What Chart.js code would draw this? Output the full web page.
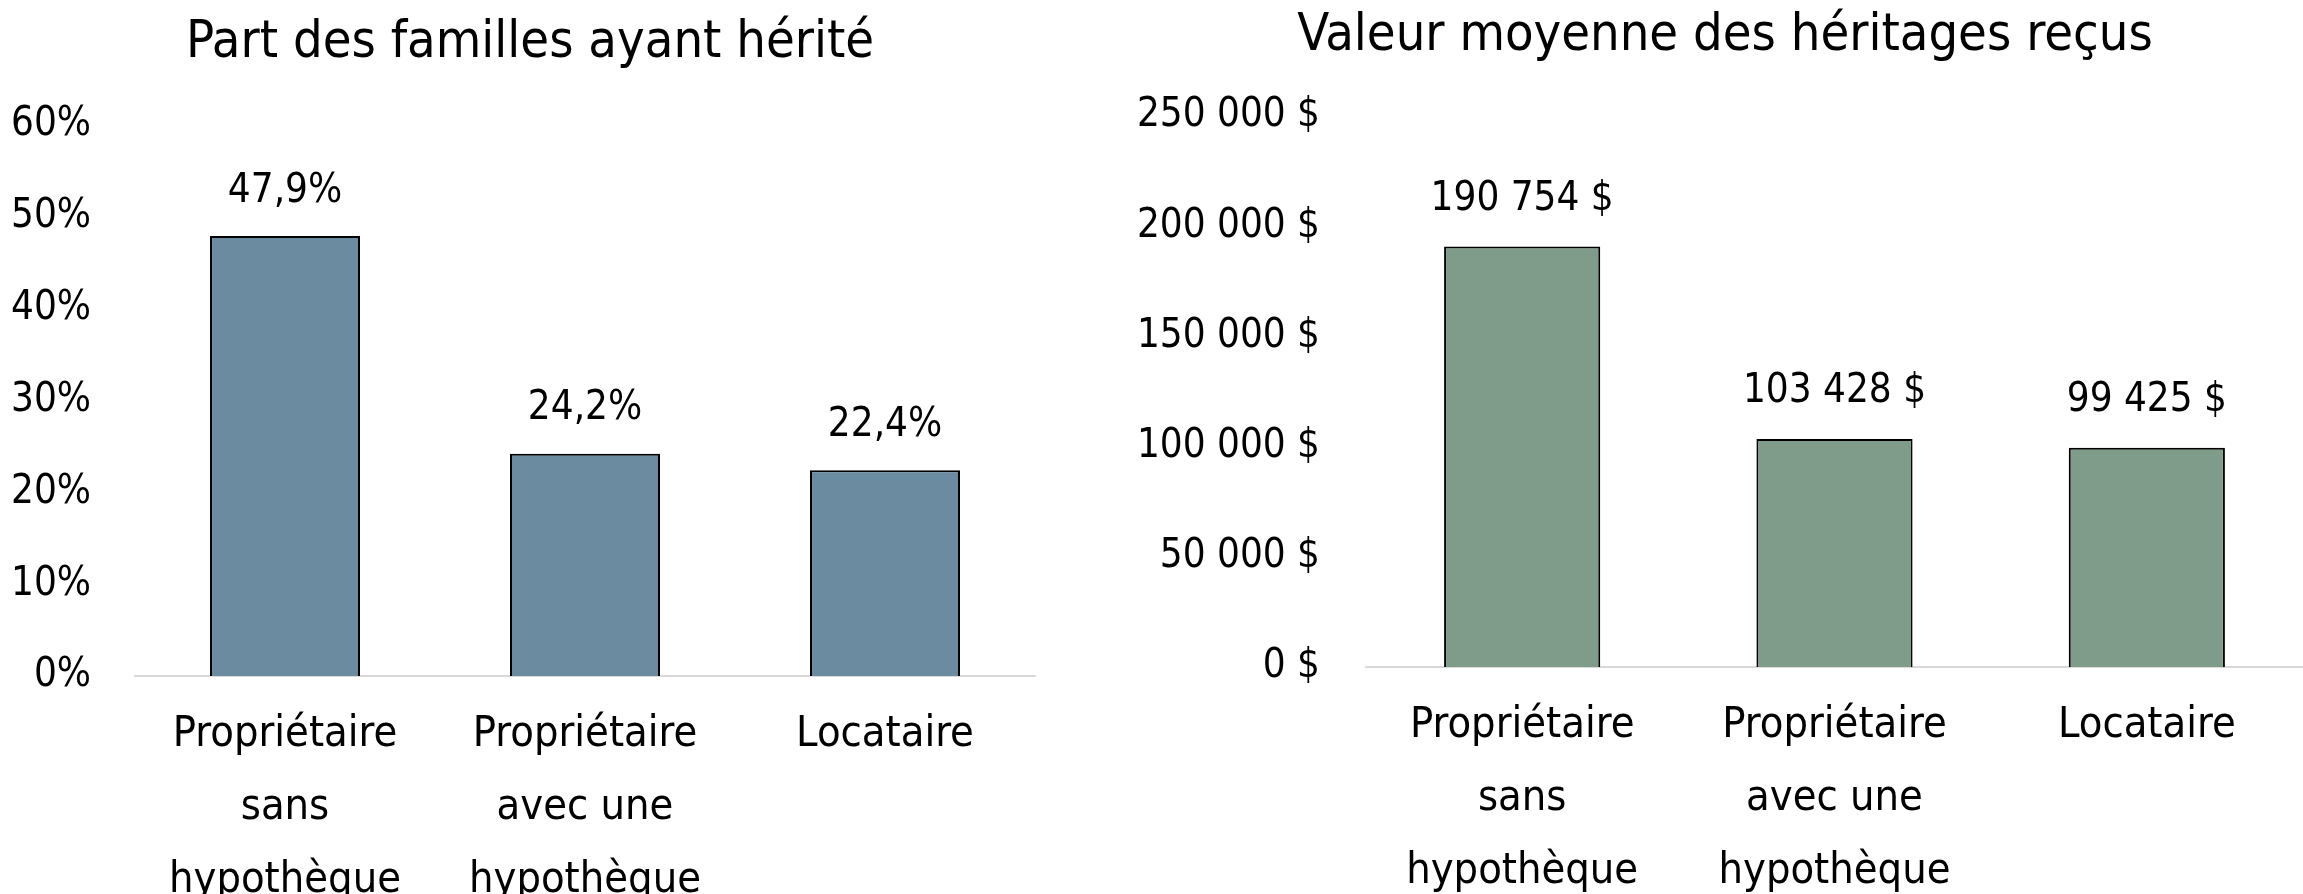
<!DOCTYPE html>
<html>
<head>
<meta charset="utf-8">
<script src="https://cdn.jsdelivr.net/npm/chart.js@4.4.1/dist/chart.umd.min.js"></script>
<style>
  html, body { margin: 0; padding: 0; background: #fff; overflow: hidden; }
  #wrap { position: relative; width: 2303px; height: 894px; }
  .box { position: absolute; top: 0; height: 894px; }
  #leftBox { left: 0; width: 1100px; }
  #rightBox { left: 1100px; width: 1203px; }
</style>
</head>
<body>
<div id="wrap">
  <div class="box" id="leftBox"><canvas id="shareChart"></canvas></div>
  <div class="box" id="rightBox"><canvas id="amountChart"></canvas></div>
</div>
<script>
const categories = [
  ['Propriétaire', 'sans', 'hypothèque'],
  ['Propriétaire', 'avec une', 'hypothèque'],
  ['Locataire']
];
const shareValues = [47.9, 24.2, 22.4];
const amountValues = [190754, 103428, 99425];
const shareTitle = 'Part des familles ayant hérité';
const amountTitle = 'Valeur moyenne des héritages reçus';

const FONT = "'DejaVu Sans Condensed', 'DejaVu Sans', sans-serif";

function frNumber(n) {
  return String(n).replace(/\B(?=(\d{3})+(?!\d))/g, ' ');
}
function fmtShare(v) { return v.toFixed(1).replace('.', ',') + '%'; }
function fmtAmount(v) { return frNumber(v) + ' $'; }

Chart.defaults.font.family = FONT;
Chart.defaults.color = '#000';

// value labels above each bar, plus the title (the built-in one can't be offset sideways)
const barLabels = {
  id: 'barLabels',
  afterDatasetsDraw(chart, args, opts) {
    const ctx = chart.ctx;
    const meta = chart.getDatasetMeta(0);
    ctx.save();
    ctx.fillStyle = '#000';
    ctx.textAlign = 'center';
    ctx.textBaseline = 'middle';
    ctx.font = opts.size + 'px ' + FONT;
    meta.data.forEach((bar, i) => {
      const v = chart.data.datasets[0].data[i];
      ctx.fillText(opts.format(v), bar.x, bar.y - opts.offset);
    });
    ctx.font = opts.titleSize + 'px ' + FONT;
    ctx.fillText(opts.title, opts.titleX, opts.titleY);
    ctx.restore();
  }
};

function makeChart(id, values, color, title, yMax, yStep, fmtTick, fmtLabel, dims) {
  return new Chart(document.getElementById(id), {
    type: 'bar',
    data: {
      labels: categories,
      datasets: [{
        data: values,
        backgroundColor: color,
        borderColor: '#000',
        borderWidth: 2,
        barPercentage: 0.5,
        categoryPercentage: 1
      }]
    },
    options: {
      responsive: true,
      maintainAspectRatio: false,
      animation: false,
      layout: { padding: { left: 0, right: dims.right, top: dims.top, bottom: 0 } },
      plugins: {
        legend: { display: false },
        tooltip: { enabled: false },
        title: { display: false },
        barLabels: {
          size: 40, offset: dims.labelOffset, format: fmtLabel,
          title: title, titleSize: 52, titleX: dims.titleX, titleY: dims.titleY
        }
      },
      scales: {
        x: {
          grid: { display: false },
          border: { display: true, color: '#d9d9d9', width: 2 },
          ticks: { font: { size: 43, lineHeight: 1.7 }, padding: 14, color: '#000' },
          afterFit(scale) { scale.height = dims.xHeight; }
        },
        y: {
          min: 0,
          max: yMax,
          grid: { display: false, drawTicks: false },
          border: { display: false },
          ticks: { stepSize: yStep, font: { size: 40 }, padding: dims.tickPad, color: '#000', callback: fmtTick },
          afterFit(scale) { scale.width = dims.yWidth; }
        }
      }
    },
    plugins: [barLabels]
  });
}

makeChart('shareChart', shareValues, '#6a8ba0', shareTitle, 60, 10,
  v => v + '%', fmtShare,
  { right: 65, top: 125, titleX: 530, titleY: 43, labelOffset: 45, xHeight: 218, yWidth: 135, tickPad: 44 });

makeChart('amountChart', amountValues, '#7f9b89', amountTitle, 250000, 50000,
  v => frNumber(v) + ' $', fmtAmount,
  { right: 0, top: 116, titleX: 625, titleY: 36, labelOffset: 47, xHeight: 227, yWidth: 266, tickPad: 46 });
</script>
</body>
</html>
